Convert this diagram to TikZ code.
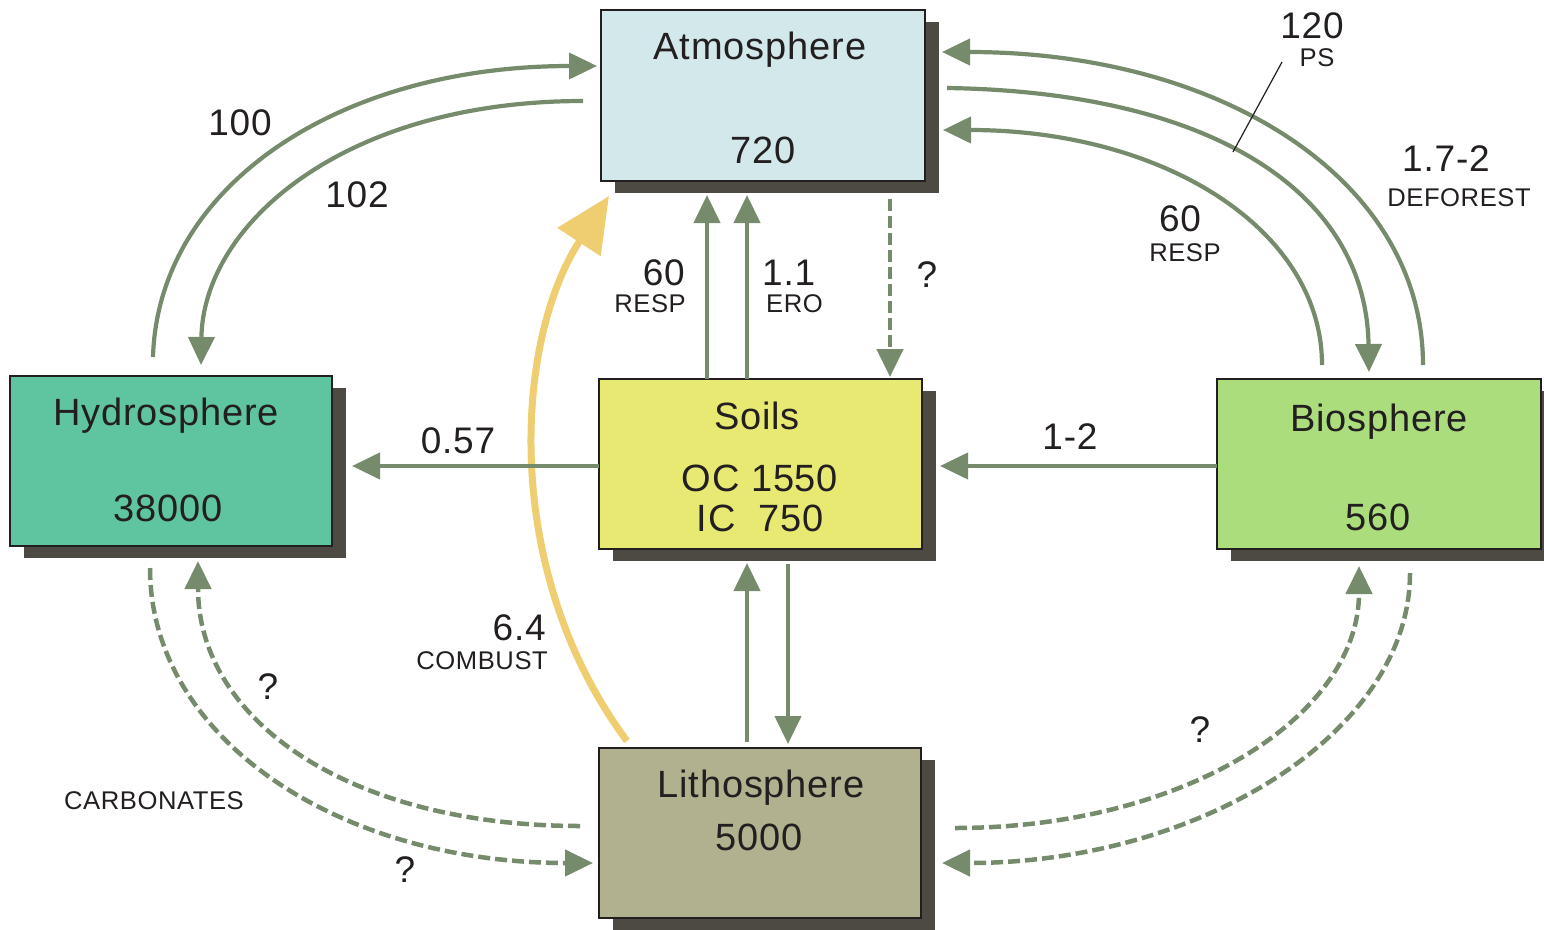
\documentclass[tikz,border=0pt]{standalone}
\usepackage{fontspec}
\setmainfont[LetterSpace=2.2]{Liberation Sans}
\usetikzlibrary{arrows.meta,shadows,calc}
\definecolor{atmc}{HTML}{D3E8EB}
\definecolor{hydc}{HTML}{5FC4A0}
\definecolor{soilc}{HTML}{E8E973}
\definecolor{bioc}{HTML}{ABDD7D}
\definecolor{litc}{HTML}{B1B18F}
\definecolor{shadowc}{HTML}{4C4A42}
\definecolor{arrowc}{HTML}{758B6C}
\definecolor{yelc}{HTML}{EFCE72}
\definecolor{textc}{HTML}{231F20}
\begin{document}
\begin{tikzpicture}[x=1pt,y=-1pt,
  box/.style={draw=textc, line width=1.4pt, outer sep=0pt, inner sep=0pt,
    drop shadow={shadow xshift=14pt, shadow yshift=-12pt, fill=shadowc, opacity=1}},
  flow/.style={draw=arrowc, line width=4.2pt, -{Triangle[length=28pt,width=26pt]}},
  dflow/.style={flow, line width=4.5pt, dash pattern=on 12pt off 5pt},
  big/.style={font=\fontsize{38}{40}\selectfont, text=textc, inner sep=0pt, anchor=base},
  num/.style={font=\fontsize{37}{40}\selectfont, text=textc, inner sep=0pt, anchor=base},
  sm/.style={font=\fontsize{25.6}{28}\selectfont, text=textc, inner sep=0pt, anchor=base},
]
\useasboundingbox (0,0) rectangle (1544,929);

% boxes
\node[box, fill=atmc, minimum width=324pt, minimum height=171pt] (atm) at (763,95.5) {};
\node[box, fill=hydc, minimum width=322pt, minimum height=170pt] (hyd) at (171,461) {};
\node[box, fill=soilc, minimum width=323pt, minimum height=170pt] (soil) at (760.5,464) {};
\node[box, fill=bioc, minimum width=324pt, minimum height=170pt] (bio) at (1379,464) {};
\node[box, fill=litc, minimum width=322pt, minimum height=170pt] (lit) at (760,833) {};

% box texts
\node[big] (atmt) at (760,59) {Atmosphere};
\node[big] (atmn) at (763,163) {720};
\node[big] (hydt) at (166,425) {Hydrosphere};
\node[big] (hydn) at (168,521) {38000};
\node[big] (soilt) at (757,429) {Soils};
\node[big] (soiln1) at (760,491) {OC 1550};
\node[big] (soiln2) at (760,531) {IC\ \ 750};
\node[big] (biot) at (1379,431) {Biosphere};
\node[big] (bion) at (1378,530) {560};
\node[big] (litt) at (761,797) {Lithosphere};
\node[big] (litn) at (759,850) {5000};

% yellow combustion arrow (below the green ones)
\draw[draw=yelc, line width=7pt, -{Triangle[length=55pt,width=50pt]}]
  ($(lit.north)+(-133,-7)$) .. controls (500,570) and (515,340) .. ($(atm.south)+(-154,15)$);

% hydrosphere <-> atmosphere
\draw[flow] ($(hyd.north)+(-18,-19)$) .. controls (158,187) and (337,66) .. ($(atm.west)+(-4,-29.5)$);
\draw[flow] ($(atm.west)+(-18,5.5)$) .. controls (343,101) and (203,225) .. ($(hyd.north)+(30,-11)$);

% soils <-> atmosphere
\draw[flow] ($(soil.north)+(-53.5,0)$) -- ($(atm.south)+(-56,14)$);
\draw[flow] ($(soil.north)+(-13.5,0)$) -- ($(atm.south)+(-16,14)$);
\draw[dflow] ($(atm.south)+(127,18)$) -- ($(soil.north)+(129.5,-2)$);

% biosphere <-> atmosphere
\draw[flow] ($(bio.north)+(44,-14)$) .. controls (1423,180) and (1222,52) .. ($(atm.east)+(17,-43.5)$);
\draw[flow] ($(atm.east)+(22,-7.5)$) .. controls (1212,92) and (1366,192) .. ($(bio.north)+(-10,-7)$);
\draw[flow] ($(bio.north)+(-57,-14)$) .. controls (1322,229) and (1163,130) .. ($(atm.east)+(18,34.5)$);

% horizontal flows
\draw[flow] ($(soil.west)+(0,2)$) -- ($(hyd.east)+(20,5)$);
\draw[flow] ($(bio.west)+(0,2)$) -- ($(soil.east)+(18,2)$);

% soils <-> lithosphere
\draw[flow] ($(lit.north)+(-13,-6)$) -- ($(soil.south)+(-13.5,14)$);
\draw[flow] ($(soil.south)+(27.5,15)$) -- ($(lit.north)+(28,-4)$);

% dashed lithosphere exchanges
\draw[dflow] ($(hyd.south)+(-21,22)$) .. controls (150,738) and (338,863) .. ($(lit.west)+(-6,30)$);
\draw[dflow] ($(lit.west)+(-19,-7)$) .. controls (350,826) and (198,721) .. ($(hyd.south)+(27,15)$);
\draw[dflow] ($(lit.east)+(34,-5)$) .. controls (1185,828) and (1359,716) .. ($(bio.south)+(-20,17)$);
\draw[dflow] ($(bio.south)+(31,24)$) .. controls (1410,733) and (1199,863) .. ($(lit.east)+(21,30)$);

% labels
\node[num] (l100) at (240,135) {100};
\node[num] (l102) at (357,207) {102};
\node[num, anchor=base east] (l60a) at (685,285) {60};
\node[sm, anchor=base east] (lrespa) at (686,312) {RESP};
\node[num, anchor=base west] (l11) at (762,285) {1.1};
\node[sm, anchor=base west] (lero) at (766,312) {ERO};
\node[num] (lq1) at (927,287) {?};
\node[num] (l120) at (1312,38) {120};
\node[sm] (lps) at (1317,66) {PS};
\node[num] (ldef) at (1446,171) {1.7-2};
\node[sm] (ldeft) at (1459,206) {DEFOREST};
\node[num] (l60b) at (1180,231) {60};
\node[sm] (lrespb) at (1185,261) {RESP};
\node[num] (l057) at (458,453) {0.57};
\node[num] (l12) at (1070,449) {1-2};
\node[num, anchor=base east] (l64) at (546,640) {6.4};
\node[sm, anchor=base east] (lcomb) at (548,669) {COMBUST};
\node[num] (lq2) at (268,699) {?};
\node[sm] (lcarb) at (154,809) {CARBONATES};
\node[num] (lq3) at (405,882) {?};
\node[num] (lq4) at (1200,742) {?};

% leader line for PS
\coordinate (psa) at (1282,62);
\coordinate (psb) at (1233,152);
\draw[line width=1.2pt, draw=textc] (psa) -- (psb);
\end{tikzpicture}
\end{document}
